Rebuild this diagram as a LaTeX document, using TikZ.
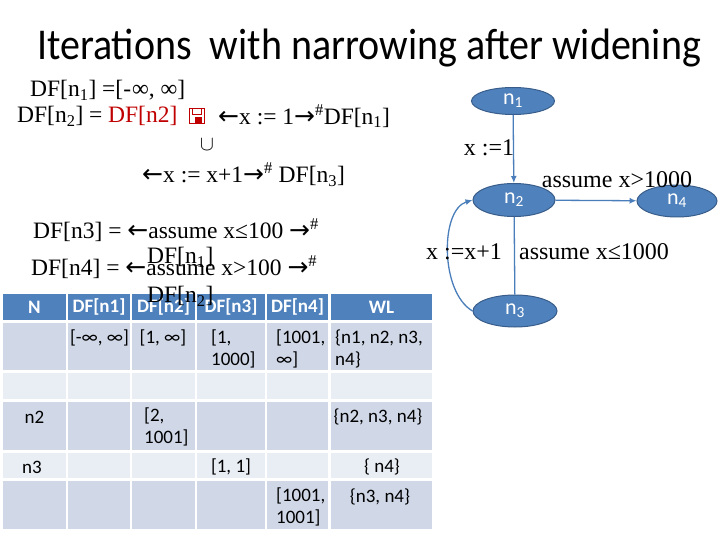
\documentclass[tikz,border=0pt]{standalone}
\usepackage{fontspec}
\setmainfont{Liberation Serif}
\newfontfamily\calfont{Carlito}
\newfontfamily\dejfont{DejaVu Sans}
\usetikzlibrary{arrows.meta,shapes.geometric}
\definecolor{hdr}{HTML}{4F81BD}
\definecolor{rowa}{HTML}{D0D8E8}
\definecolor{rowb}{HTML}{E9EDF4}
\definecolor{edgec}{HTML}{4A7EBB}
\definecolor{nodeb}{HTML}{385D8A}
\definecolor{redt}{HTML}{C00000}
\newcommand\la{{\dejfont\fontsize{25}{25}\selectfont\char"2190}}
\newcommand\ra{{\dejfont\fontsize{25}{25}\selectfont\char"2192}}
\begin{document}
\begin{tikzpicture}[x=1pt,y=-1pt,
  txt/.style={font=\fontsize{23.5}{26}\selectfont, inner sep=0pt, anchor=west},
  cell/.style={font=\calfont\fontsize{19}{22}\selectfont, inner sep=0pt},
  hcell/.style={font=\calfont\bfseries\fontsize{19}{22}\selectfont, text=white, inner sep=0pt},
  gnode/.style={ellipse, draw=nodeb, line width=1pt, fill=hdr, inner sep=0pt, text=white, font=\calfont\fontsize{22}{24}\selectfont},
  gedge/.style={draw=edgec, line width=1.3pt},
  elab/.style={font=\fontsize{24}{26}\selectfont, inner sep=0pt}]
\useasboundingbox (0,0) rectangle (720,540);
\fill[white] (0,0) rectangle (720,540);
% title
\node[font=\calfont\fontsize{40}{48}\selectfont, inner sep=0pt, yscale=1.1] (title) at (369,48) {Iterations\ \ with narrowing after widening};
% left equations
\node[txt] (l1) at (30,90) {DF[n\textsubscript{1}] =[-\kern1pt∞, ∞]};
\node[txt] (l2a) at (17,116) {DF[n\textsubscript{2}] = };
\node[txt, text=redt] (l2b) at (108,116) {DF[n2]};
\draw[redt, line width=0.9pt] (189,108) rectangle (204,123);
\draw[redt, line width=0.8pt] (192,108) rectangle (201,114);
\fill[redt] (195,117) rectangle (202,123);
\node[txt] (l2c) at (218,116) {\la x := 1\ra\textsuperscript{\#}DF[n\textsubscript{1}]};
\node[font=\fontsize{22}{26}\selectfont, inner sep=0pt] (cup) at (207,145) {$\cup$};
\node[txt] (l4) at (142,175) {\la x := x+1\ra\textsuperscript{\#} DF[n\textsubscript{3}]};
\node[txt] (l5) at (33,230) {DF[n3] = \la assume x≤100 \ra\textsuperscript{\#}};
\node[txt] (ov1) at (147,257) {DF[n\textsubscript{1}]};
\node[txt] (l6) at (31,267) {DF[n4] = \la assume x>100 \ra\textsuperscript{\#}};
% table
\foreach \ya/\yb/\c in {294/320/hdr,323/370/rowa,373/399/rowb,402/450/rowa,453/478/rowb,481/529/rowa}{
  \foreach \xa/\xb in {3/66,68/130,132/195,197/265,267/328,331/432}{
    \fill[\c] (\xa,\ya) rectangle (\xb,\yb);
  }
}
\node[hcell] (h1) at (34.5,307) {N};
\node[hcell] (h2) at (99,307) {DF[n1]};
\node[hcell] (h3) at (163.5,307) {DF[n2]};
\node[hcell] (h4) at (231,307) {DF[n3]};
\node[hcell] (h5) at (297.5,307) {DF[n4]};
\node[hcell] (h6) at (381.5,307) {WL};
\node[cell] (c12) at (99.5,338) {[-∞, ∞]};
\node[cell] (c13) at (163,338) {[1, ∞]};
\node[cell, anchor=west, align=left] (c14) at (211,349) {[1,\\1000]};
\node[cell, anchor=west, align=left] (c15) at (276,349) {[1001,\\∞]};
\node[cell, anchor=west, align=left] (c16) at (335,349) {\{n1, n2, n3,\\n4\}};
\node[cell] (c31) at (34.5,417) {n2};
\node[cell, anchor=west, align=left] (c33) at (144,427) {[2,\\1001]};
\node[cell] (c36) at (378,417) {\{n2, n3, n4\}};
\node[cell] (c41) at (32,467) {n3};
\node[cell] (c44) at (231,467) {[1, 1]};
\node[cell] (c46) at (382,467) {\{ n4\}};
\node[cell, anchor=west, align=left] (c55) at (276,507) {[1001,\\1001]};
\node[cell] (c56) at (380,497) {\{n3, n4\}};
\node[txt] (ov2) at (147,296) {DF[n\textsubscript{2}]};
% graph
\node[gnode, minimum width=83pt, minimum height=27pt] (n1) at (513,101) {n\textsubscript{1}};
\node[gnode, minimum width=82pt, minimum height=33pt] (n2) at (514,200) {n\textsubscript{2}};
\node[gnode, minimum width=80pt, minimum height=32pt] (n4) at (677,201) {n\textsubscript{4}};
\node[gnode, minimum width=84pt, minimum height=32pt] (n3) at (515,311) {n\textsubscript{3}};
\draw[gedge, -{Latex[length=7pt,width=6pt]}] (n1) -- (n2);
\draw[gedge, -{Latex[length=7pt,width=6pt]}] (n2) -- (n4);
\draw[gedge] (n2) -- (n3);
\draw[gedge, -{Latex[length=7pt,width=6pt]}] (n3.west) .. controls (440,292) and (440,210) .. (n2.west);
\node[elab] (e1) at (489,148) {x :=1};
\node[elab] (e2) at (617,180) {assume x>1000};
\node[elab] (e3) at (464,252) {x :=x+1};
\node[elab] (e4) at (594,252) {assume x≤1000};
\end{tikzpicture}
\end{document}
